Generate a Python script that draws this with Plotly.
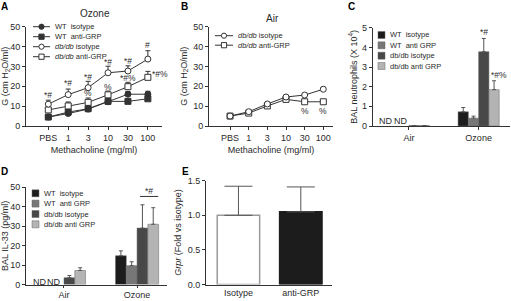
import plotly.graph_objects as go

W, H = 511, 301
def px(x): return x / W
def py(y): return 1 - y / H

# ---------------- data ----------------
dose_labels = ["PBS", "1", "3", "10", "30", "100"]
dose_idx = list(range(len(dose_labels)))

# Panel A - Ozone
a_wt_iso = [4.5, 6.3, 8.5, 12.2, 16.0, 16.0]
a_wt_iso_err = [0.5, 0.8, 0.6, 0.7, 1.4, 1.5]
a_wt_anti = [4.5, 7.0, 8.7, 12.4, 12.4, 13.7]
a_wt_anti_err = [0.5, 0.8, 0.5, 0.6, 0.8, 1.3]
a_db_iso = [11.0, 15.8, 19.3, 26.8, 27.7, 33.7]
a_db_iso_err = [2.0, 2.8, 3.2, 3.3, 2.6, 4.2]
a_db_anti = [8.1, 10.1, 11.9, 15.7, 19.8, 24.5]
a_db_anti_err = [0.7, 2.0, 2.2, 1.9, 2.2, 3.0]

# Panel B - Air
b_db_iso = [5.0, 7.2, 11.1, 14.6, 15.6, 18.5]
b_db_iso_err = [0.3, 0.4, 0.5, 0.6, 0.6, 1.0]
b_db_anti = [5.0, 6.5, 10.1, 13.4, 12.2, 12.2]
b_db_anti_err = [0.3, 0.4, 0.5, 0.6, 0.5, 0.5]

# Panel C - BAL neutrophils
exposures = ["Air", "Ozone"]
c_wt_iso = [None, 0.72]
c_wt_iso_err = [0, 0.22]
c_wt_anti = [None, 0.40]
c_wt_anti_err = [0, 0.10]
c_db_iso = [0.02, 3.78]
c_db_iso_err = [0, 0.67]
c_db_anti = [0.02, 1.85]
c_db_anti_err = [0, 0.45]

# Panel D - BAL IL-33
d_wt_iso = [None, 14.8]
d_wt_iso_err = [0, 2.5]
d_wt_anti = [None, 9.7]
d_wt_anti_err = [0, 2.0]
d_db_iso = [3.5, 29.0]
d_db_iso_err = [1.1, 12.0]
d_db_anti = [7.2, 31.0]
d_db_anti_err = [1.4, 8.5]

# Panel E - Grpr
e_groups = ["Isotype", "anti-GRP"]
e_vals = [1.0, 1.05]
e_err = [0.42, 0.36]

group_names = ["WT  isotype", "WT  anti GRP", "db/db isotype", "db/db anti GRP"]
bar_colors = ["#1c1c1c", "#777777", "#484848", "#b4b4b4"]

FONT = "Liberation Sans, Arial, sans-serif"
TXT = "#2a2a2a"
AX = "#333333"
LEGSIZE = 7.5

fig = go.Figure()

def add_line(x, y, err, xa, ya, symbol, fill):
    fig.add_trace(go.Scatter(
        x=x, y=y, xaxis=xa, yaxis=ya, mode="lines+markers", showlegend=False,
        line=dict(color=AX, width=1),
        marker=dict(symbol=symbol, size=6, color=fill, line=dict(color=AX, width=1)),
        error_y=dict(type="data", array=err, arrayminus=[0] * len(err), symmetric=False,
                     color=AX, thickness=1, width=2.5)))

# Panel A
add_line(dose_idx, a_wt_iso, a_wt_iso_err, "x", "y", "circle", AX)
add_line(dose_idx, a_wt_anti, a_wt_anti_err, "x", "y", "square", AX)
add_line(dose_idx, a_db_anti, a_db_anti_err, "x", "y", "square", "white")
add_line(dose_idx, a_db_iso, a_db_iso_err, "x", "y", "circle", "white")
# Panel B
add_line(dose_idx, b_db_anti, b_db_anti_err, "x2", "y2", "square", "white")
add_line(dose_idx, b_db_iso, b_db_iso_err, "x2", "y2", "circle", "white")

# Panel C & D bars
c_sets = [(c_wt_iso, c_wt_iso_err), (c_wt_anti, c_wt_anti_err), (c_db_iso, c_db_iso_err), (c_db_anti, c_db_anti_err)]
d_sets = [(d_wt_iso, d_wt_iso_err), (d_wt_anti, d_wt_anti_err), (d_db_iso, d_db_iso_err), (d_db_anti, d_db_anti_err)]
for (vals, err), col, nm in zip(c_sets, bar_colors, group_names):
    fig.add_trace(go.Bar(x=exposures, y=vals, xaxis="x3", yaxis="y3", name=nm, showlegend=False,
                         marker=dict(color=col, line=dict(color="#666", width=0.5)),
                         error_y=dict(type="data", array=err, arrayminus=[0, 0], symmetric=False,
                                      color="#555", thickness=1, width=2)))
for (vals, err), col, nm in zip(d_sets, bar_colors, group_names):
    fig.add_trace(go.Bar(x=exposures, y=vals, xaxis="x4", yaxis="y4", name=nm, showlegend=False,
                         marker=dict(color=col, line=dict(color="#666", width=0.5)),
                         error_y=dict(type="data", array=err, arrayminus=[0, 0], symmetric=False,
                                      color="#555", thickness=1, width=2)))

# Panel E
fig.add_trace(go.Bar(x=e_groups, y=e_vals, xaxis="x5", yaxis="y5", showlegend=False, width=0.68,
                     marker=dict(color=["white", "#1c1c1c"], line=dict(color=["#9a9a9a", "#1c1c1c"], width=1.5)),
                     error_y=dict(type="data", array=e_err, arrayminus=[0, 0], symmetric=False,
                                  color="#555", thickness=1, width=14)))

tickfont = dict(family=FONT, size=9, color=TXT)
titlefont = dict(family=FONT, size=9, color=TXT)

def xax(domain, rng, anchor, **kw):
    d = dict(domain=domain, range=rng, anchor=anchor, showline=True, linecolor=AX, linewidth=1,
             ticks="outside", ticklen=3, tickcolor=AX, tickfont=tickfont, showgrid=False,
             zeroline=False, automargin=False, fixedrange=True)
    d.update(kw)
    return d

def yax(domain, rng, anchor, dtick, title, standoff, **kw):
    d = dict(domain=domain, range=rng, anchor=anchor, showline=True, linecolor=AX, linewidth=1,
             ticks="outside", ticklen=3, tickcolor=AX, tickfont=tickfont, showgrid=False,
             zeroline=False, dtick=dtick, automargin=False, fixedrange=True,
             title=dict(text=title, font=titlefont, standoff=standoff))
    d.update(kw)
    return d

topY = [py(126), py(26.7)]
botA = 284.5
fig.update_layout(
    width=W, height=H, margin=dict(l=0, r=0, t=0, b=0), autosize=False,
    paper_bgcolor="white", plot_bgcolor="white", barmode="group", bargap=0.41,
    font=dict(family=FONT, color=TXT),
    xaxis=xax([px(26), px(162)], [-1.12, 5.71], "y", tickvals=dose_idx, ticktext=dose_labels,
              title=dict(text="Methacholine (mg/ml)", font=titlefont, standoff=4)),
    yaxis=yax(topY, [0, 50], "x", 10, "G (cm H<sub>2</sub>O/ml)", 4),
    xaxis2=xax([px(209), px(333)], [-1.13, 5.52], "y2", tickvals=dose_idx, ticktext=dose_labels,
               title=dict(text="Methacholine (mg/ml)", font=titlefont, standoff=4)),
    yaxis2=yax(topY, [0, 50], "x2", 10, "G (cm H<sub>2</sub>O/ml)", 4),
    xaxis3=xax([px(372.7), px(510)], [-0.52, 1.45], "y3", type="category"),
    yaxis3=yax([py(126), py(27.7)], [0, 5], "x3", 1, "BAL neutrophils (X 10<sup>4</sup>)", 2),
    xaxis4=xax([px(26), px(167)], [-0.52, 1.41], "y4", type="category", ticklen=2),
    yaxis4=yax([py(botA), py(187.3)], [0, 50], "x4", 10, "BAL IL-33 (pg/ml)", 4),
    xaxis5=xax([px(206), px(332)], [-0.52, 1.5], "y5", type="category", ticks=""),
    yaxis5=yax([py(botA), py(180.7)], [0, 1.5], "x5", 0.5, "<i>Grpr</i> (Fold vs isotype)", 4,
               tickformat=".1f"),
)

ann = []
def label(text, x, y, size=9, bold=False, xanchor="center"):
    t = f"<b>{text}</b>" if bold else text
    ann.append(dict(text=t, x=px(x), y=py(y), xref="paper", yref="paper", showarrow=False,
                    xanchor=xanchor, yanchor="middle", font=dict(family=FONT, size=size,
                    color="black" if bold else TXT)))

# panel letters and titles
label("A", 4, 6, 10, True)
label("B", 184, 6, 10, True)
label("C", 351, 6, 10, True)
label("D", 4, 171.7, 10, True)
label("E", 185, 171.7, 10, True)
label("Ozone", 95, 14, 10)
label("Air", 272.7, 19, 10)

# significance marks (data coords)
def mark(text, x, y, xa, ya, size=8.5, xshift=0):
    ann.append(dict(text=text, x=x, y=y, xref=xa, yref=ya, showarrow=False, xshift=xshift,
                    font=dict(family=FONT, size=size, color=TXT)))

for i, (t, v) in enumerate(zip(["*#", "*#", "*#", "*#", "*#", "#"], [15.6, 21.5, 24.8, 32.0, 32.9, 40.8])):
    mark(t, dose_idx[i], v, "x", "y")
mark("%", 2, 16.8, "x", "y")
mark("%", 3, 19.8, "x", "y")
mark("*#%", 4, 24.0, "x", "y")
mark("*#%", 5, 26.0, "x", "y", xshift=12)
mark("%", 4, 7.7, "x2", "y2")
mark("%", 5, 7.7, "x2", "y2")
mark("*#", 1.074, 4.8, "x3", "y3")
mark("*#%", 1.221, 2.6, "x3", "y3", xshift=5)
mark("*#", 1.165, 48.1, "x4", "y4")

# ND labels
for x in (386, 401):
    label("ND", x, 120.5, 9)
for x in (40, 54):
    label("ND", x, 282, 9)

shapes = []
shapes.append(dict(type="line", xref="x4", yref="y4", x0=1.04, x1=1.29, y0=45.3, y1=45.3,
                   line=dict(color=AX, width=1)))

# manual legends (decorations)
def leg_line(x0, x1, y, symbol, fill, text, tx):
    shapes.append(dict(type="line", xref="paper", yref="paper", x0=px(x0), x1=px(x1), y0=py(y), y1=py(y),
                       line=dict(color=AX, width=1)))
    cx = (x0 + x1) / 2
    r = 2.6
    shapes.append(dict(type="circle" if symbol == "circle" else "rect", xref="paper", yref="paper",
                       x0=px(cx - r), x1=px(cx + r), y0=py(y + r), y1=py(y - r),
                       fillcolor=fill, line=dict(color=AX, width=1)))
    ann.append(dict(text=text, x=px(tx), y=py(y), xref="paper", yref="paper", showarrow=False,
                    xanchor="left", yanchor="middle", font=dict(family=FONT, size=LEGSIZE, color=TXT)))

legA = [("circle", AX, "WT  isotype"), ("square", AX, "WT  anti-GRP"),
        ("circle", "white", "<i>db/db</i> isotype"), ("square", "white", "<i>db/db</i> anti-GRP")]
for (s, f, t), yy in zip(legA, [26.7, 36.7, 46.7, 56.7]):
    leg_line(33, 50, yy, s, f, t, 53)
legB = [("circle", "white", "<i>db/db</i> isotype"), ("square", "white", "<i>db/db</i> anti-GRP")]
for (s, f, t), yy in zip(legB, [35.7, 45.2]):
    leg_line(215, 233, yy, s, f, t, 236)

def leg_box(x0, y, col, text):
    shapes.append(dict(type="rect", xref="paper", yref="paper", x0=px(x0), x1=px(x0 + 7),
                       y0=py(y + 3.5), y1=py(y - 3.5), fillcolor=col, line=dict(color="#666", width=0.5)))
    ann.append(dict(text=text, x=px(x0 + 10), y=py(y), xref="paper", yref="paper", showarrow=False,
                    xanchor="left", yanchor="middle", font=dict(family=FONT, size=LEGSIZE, color=TXT)))

for col, nm, yy in zip(bar_colors, group_names, [35, 45.3, 55.7, 66]):
    leg_box(378, yy, col, nm)
for col, nm, yy in zip(bar_colors, group_names, [193.3, 203.6, 214, 224.3]):
    leg_box(32, yy, col, nm)

fig.update_layout(annotations=ann, shapes=shapes)
fig.write_html("out.html", config={"displayModeBar": False, "staticPlot": True},
               post_script="document.body.style.margin='0';document.body.style.overflow='hidden';")
